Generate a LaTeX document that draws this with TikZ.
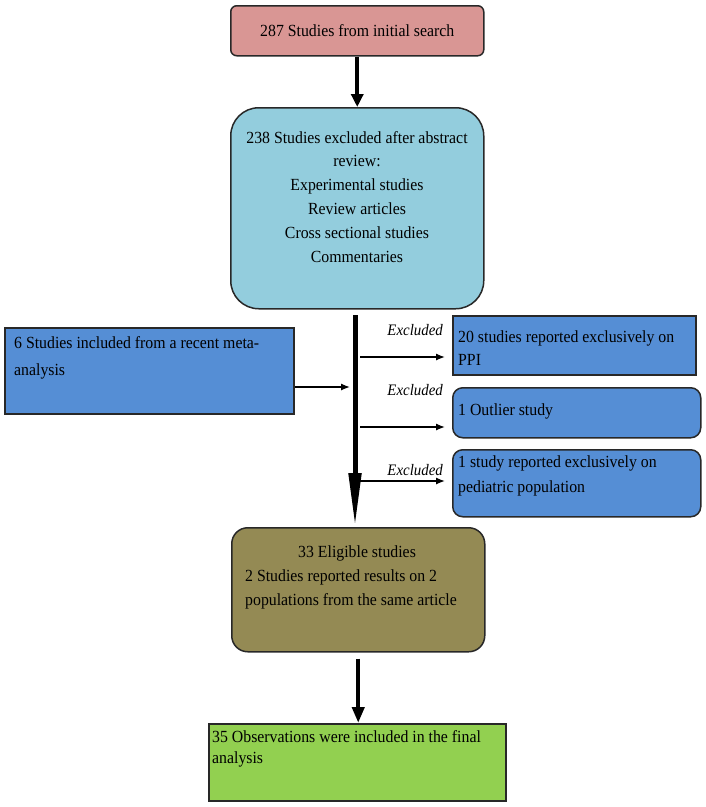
\documentclass[tikz,border=0pt]{standalone}
\usepackage{fontspec}
\setmainfont{Liberation Serif}[FakeStretch=0.93]
\usetikzlibrary{arrows.meta}
\definecolor{pinkfill}{RGB}{217,150,148}
\definecolor{cyanfill}{RGB}{147,205,221}
\definecolor{bluefill}{RGB}{85,142,213}
\definecolor{olivefill}{RGB}{148,138,84}
\definecolor{greenfill}{RGB}{146,208,80}
\definecolor{edgecol}{RGB}{40,40,40}
\begin{document}
\begin{tikzpicture}[x=1pt,y=-1pt,
  box/.style={draw=edgecol, line width=1.5pt, anchor=north west, inner sep=0pt},
  txt/.style={inner sep=0pt, text=black},
  exc/.style={inner sep=0pt, font=\fontsize{16}{18}\selectfont\itshape, anchor=base east},
  fatarrow/.style={line width=4pt, draw=black},
  thinarr/.style={line width=1.3pt, draw=black, -{Latex[length=9pt,width=7pt]}}]
\useasboundingbox (0,0) rectangle (706,807);
% boxes
\node[box, fill=pinkfill, rounded corners=6pt, minimum width=253pt, minimum height=50pt,
      font=\fontsize{17}{20}\selectfont] (b1) at (230,5) {287 Studies from initial search};
\node[box, fill=cyanfill, rounded corners=28pt, minimum width=253pt, minimum height=201pt] (b2) at (230,107) {};
\node[box, fill=bluefill, minimum width=289pt, minimum height=86pt] (lbox) at (4,327) {};
\node[box, fill=bluefill, minimum width=243pt, minimum height=59pt] (bA) at (452,315) {};
\node[box, fill=bluefill, rounded corners=10pt, minimum width=248pt, minimum height=50pt] (bB) at (452,387) {};
\node[box, fill=bluefill, rounded corners=10pt, minimum width=248pt, minimum height=67pt] (bC) at (452,449) {};
\node[box, fill=olivefill, rounded corners=16pt, minimum width=253pt, minimum height=124pt] (b4) at (231,527) {};
\node[box, fill=greenfill, minimum width=297pt, minimum height=77pt] (b5) at (208,723) {};
% texts
\node[txt, anchor=north, align=center, font=\fontsize{17}{23.8}\selectfont] (t2) at (357,131)
  {238 Studies excluded after abstract\\review:\\Experimental studies\\Review articles\\Cross sectional studies\\Commentaries};
\node[txt, anchor=north west, align=left, font=\fontsize{17}{27}\selectfont] (tl) at (14,336)
  {6 Studies included from a recent meta-\\analysis};
\node[txt, anchor=north west, align=left, font=\fontsize{17}{23}\selectfont] (tA) at (458,330)
  {20 studies reported exclusively on\\PPI};
\node[txt, anchor=north west, align=left, font=\fontsize{17}{23}\selectfont] (tB) at (458,403)
  {1 Outlier study};
\node[txt, anchor=north west, align=left, font=\fontsize{17}{25}\selectfont] (tC) at (458,455)
  {1 study reported exclusively on\\pediatric population};
\node[txt, anchor=north west, align=left, font=\fontsize{17}{24}\selectfont] (t4) at (245,545)
  {\hspace*{53pt}33 Eligible studies\\2 Studies reported results on 2\\populations from the same article};
\node[txt, anchor=north west, align=left, font=\fontsize{17}{21}\selectfont] (t5) at (212,730)
  {35 Observations were included in the final\\analysis};
% excluded labels
\node[exc] (x1) at (443,335) {Excluded};
\node[exc] (x2) at (443,395) {Excluded};
\node[exc] (x3) at (443,475) {Excluded};
% main arrows
\draw[fatarrow, -{Triangle[length=13pt,width=12pt]}] (b1.south) -- (b2.north);
\coordinate (vtop) at (355,315);
\draw[line width=5pt, -{Triangle[length=54pt,width=12pt]}] (vtop) -- (vtop |- b4.north);
\draw[fatarrow, -{Triangle[length=16pt,width=12pt]}] ([yshift=-6pt]b4.south) -- (b4.south |- b5.north);
% thin arrows
\coordinate (m0) at (350,387);
\draw[thinarr] (lbox.east |- m0) -- (m0);
\coordinate (e1) at (445,357);
\coordinate (e2) at (445,427);
\coordinate (e3) at (445,481);
\draw[thinarr] ([xshift=5pt]vtop |- e1) -- (e1);
\draw[thinarr] ([xshift=5pt]vtop |- e2) -- (e2);
\draw[thinarr] ([xshift=5pt]vtop |- e3) -- (e3);
\end{tikzpicture}
\end{document}
